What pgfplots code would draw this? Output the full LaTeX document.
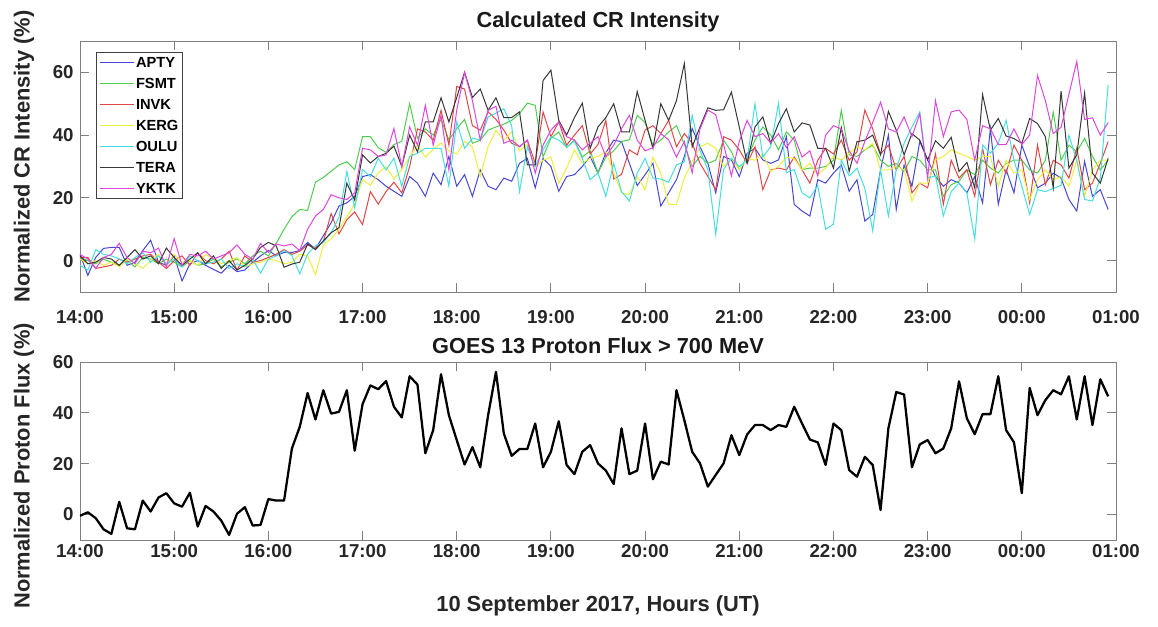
\documentclass[border=0pt]{standalone}
\usepackage{fontspec}
\setmainfont{Liberation Sans}
\usepackage{pgfplots}
\usepackage{pgfplotstable}
\pgfplotsset{compat=1.18}

\definecolor{capty}{RGB}{70,70,215}
\definecolor{cfsmt}{RGB}{80,205,80}
\definecolor{cinvk}{RGB}{225,70,70}
\definecolor{ckerg}{RGB}{238,238,60}
\definecolor{coulu}{RGB}{70,222,222}
\definecolor{ctera}{RGB}{55,55,55}
\definecolor{cyktk}{RGB}{222,70,222}

% 5-minute samples, index 0 = 14:00
\pgfplotstableread[header=false,row sep=\\]{
2.0\\-4.7\\1.0\\3.9\\4.2\\4.2\\-1.5\\-0.5\\3.2\\6.5\\-0.5\\-1.5\\
1.5\\-6.5\\-1.0\\0.0\\-1.5\\-2.8\\-4.0\\-1.5\\-3.5\\-3.0\\-0.5\\1.5\\
3.2\\1.6\\2.6\\2.6\\3.2\\5.8\\3.7\\7.9\\12.1\\17.4\\18.4\\20.5\\
26.8\\27.4\\25.8\\23.7\\22.1\\20.5\\26.8\\24.7\\20.5\\27.9\\24.2\\33.2\\
23.7\\27.4\\20.5\\28.9\\23.7\\22.6\\26.3\\25.3\\31.0\\32.6\\23.2\\32.6\\
30.0\\22.1\\26.8\\27.4\\30.0\\33.2\\27.9\\34.4\\38.4\\37.9\\31.0\\23.9\\
27.4\\31.0\\17.4\\21.6\\25.8\\33.2\\42.1\\36.3\\31.0\\21.6\\33.2\\32.1\\
26.8\\34.2\\35.8\\32.1\\31.0\\32.1\\39.5\\17.9\\15.8\\14.2\\25.8\\24.7\\
27.9\\30.5\\22.1\\25.8\\12.6\\14.7\\29.0\\40.0\\16.3\\30.5\\23.7\\38.0\\
32.1\\26.8\\23.7\\25.8\\24.7\\21.6\\26.8\\18.4\\42.1\\17.9\\29.0\\21.6\\
36.8\\30.0\\23.2\\24.7\\27.9\\26.3\\19.5\\15.8\\31.6\\20.5\\22.6\\16.3\\
}\apty
\pgfplotstableread[header=false,row sep=\\]{
1.0\\0.0\\-1.0\\0.5\\-0.5\\-1.5\\0.0\\-2.0\\1.0\\0.5\\-1.0\\0.5\\
-0.5\\-2.0\\0.0\\-1.5\\-1.0\\0.5\\-2.0\\-0.5\\0.5\\-1.0\\1.5\\3.0\\
1.5\\5.5\\10.0\\14.0\\16.3\\16.0\\25.0\\26.5\\28.5\\30.5\\31.5\\29.0\\
39.5\\39.5\\36.0\\34.5\\37.0\\38.0\\50.0\\39.0\\42.0\\40.0\\45.0\\38.5\\
42.0\\45.0\\37.4\\38.4\\41.6\\42.6\\43.5\\44.7\\46.8\\50.2\\49.5\\33.0\\
39.0\\41.0\\36.0\\38.5\\33.0\\35.0\\28.0\\33.0\\35.0\\38.0\\38.5\\46.3\\
44.0\\36.8\\38.4\\41.0\\43.0\\37.0\\30.0\\33.2\\31.0\\32.0\\38.4\\34.7\\
29.0\\32.6\\38.4\\42.6\\40.0\\35.3\\41.0\\38.4\\29.0\\29.5\\29.5\\30.0\\
32.0\\47.9\\33.7\\33.2\\35.3\\36.8\\32.0\\30.0\\31.0\\28.4\\33.2\\32.0\\
28.9\\28.9\\20.5\\24.2\\25.3\\28.9\\27.4\\32.0\\29.5\\27.9\\31.0\\32.0\\
32.0\\28.9\\27.9\\32.0\\47.4\\32.0\\36.8\\34.7\\39.0\\33.2\\28.9\\32.0\\
}\fsmt
\pgfplotstableread[header=false,row sep=\\]{
1.0\\1.0\\-2.5\\-2.0\\-1.5\\0.5\\-0.5\\0.5\\1.5\\2.0\\-0.5\\-2.5\\
0.0\\1.5\\-1.5\\2.5\\0.0\\-1.0\\0.5\\3.0\\-3.0\\1.5\\-0.5\\0.0\\
1.0\\2.0\\3.5\\2.0\\3.0\\5.0\\4.0\\6.0\\15.0\\8.5\\13.0\\15.5\\
11.5\\22.0\\18.0\\22.0\\25.0\\21.6\\30.0\\42.0\\41.0\\38.4\\47.9\\36.8\\
55.5\\54.7\\43.0\\41.6\\47.4\\45.0\\41.6\\37.4\\36.3\\38.4\\31.0\\47.4\\
39.5\\44.2\\36.8\\40.0\\43.0\\34.0\\37.0\\44.7\\26.0\\27.5\\35.3\\33.7\\
41.6\\43.0\\40.5\\44.7\\36.3\\40.5\\37.4\\31.0\\26.8\\22.6\\39.5\\38.4\\
35.3\\31.0\\36.3\\22.6\\28.9\\29.5\\28.9\\33.0\\28.9\\24.7\\32.0\\35.8\\
34.0\\38.4\\32.0\\34.7\\48.0\\42.0\\34.0\\36.8\\28.9\\33.2\\21.6\\24.7\\
23.2\\34.0\\17.9\\32.0\\26.3\\29.0\\20.5\\35.8\\24.2\\32.0\\27.9\\36.8\\
32.0\\18.4\\36.8\\24.2\\32.0\\30.5\\26.3\\35.8\\22.6\\24.7\\31.0\\37.9\\
}\invk
\pgfplotstableread[header=false,row sep=\\]{
0.5\\-1.0\\0.0\\-1.5\\-0.5\\-2.0\\0.5\\-1.0\\-2.5\\0.0\\2.0\\-1.5\\
2.0\\-0.5\\0.0\\-1.5\\2.0\\0.5\\-1.0\\0.0\\1.0\\-2.0\\-1.0\\-0.5\\
0.5\\0.0\\-1.0\\-0.5\\2.0\\1.5\\-4.5\\5.0\\7.0\\10.0\\14.0\\18.0\\
25.8\\24.0\\28.0\\30.0\\26.0\\29.0\\33.0\\36.8\\33.0\\35.5\\37.5\\35.0\\
34.0\\38.0\\36.3\\26.8\\36.3\\41.6\\38.4\\41.0\\35.0\\37.0\\30.0\\32.0\\
33.0\\24.7\\29.5\\35.3\\31.0\\32.6\\33.2\\34.7\\28.0\\21.6\\21.0\\26.8\\
22.6\\33.0\\28.0\\17.9\\17.9\\26.3\\31.5\\36.3\\37.4\\35.8\\30.0\\32.6\\
29.0\\32.6\\32.0\\34.0\\28.5\\30.0\\33.0\\32.5\\28.9\\31.0\\27.5\\29.5\\
33.2\\32.0\\34.2\\36.3\\35.3\\37.4\\28.9\\28.9\\30.0\\29.0\\19.0\\24.7\\
24.7\\32.0\\33.2\\35.3\\34.2\\33.2\\32.0\\33.2\\33.2\\23.7\\32.0\\27.9\\
28.9\\19.5\\25.8\\28.9\\25.8\\26.8\\23.7\\32.0\\20.5\\28.9\\32.0\\32.0\\
}\kerg
\pgfplotstableread[header=false,row sep=\\]{
-1.5\\-3.0\\3.5\\2.0\\1.5\\0.5\\-1.0\\1.0\\2.5\\-0.5\\1.5\\-1.0\\
0.5\\-2.0\\1.5\\0.0\\-1.0\\-0.5\\0.5\\-2.5\\-1.0\\-2.0\\0.5\\-4.0\\
0.5\\1.5\\3.2\\1.6\\-4.2\\2.1\\4.7\\5.8\\8.9\\13.7\\28.4\\16.8\\
29.0\\26.8\\32.6\\28.9\\32.6\\23.7\\33.2\\34.2\\35.8\\35.8\\35.8\\23.7\\
44.2\\35.8\\39.0\\38.4\\45.8\\47.0\\48.4\\43.0\\22.0\\36.3\\30.0\\35.3\\
39.5\\38.4\\36.3\\38.0\\32.5\\25.8\\28.0\\20.5\\31.0\\22.0\\19.0\\27.9\\
32.6\\26.3\\26.0\\25.0\\30.5\\31.5\\46.3\\35.0\\29.0\\8.4\\29.0\\32.6\\
30.0\\32.0\\50.0\\33.0\\36.3\\50.2\\28.0\\29.0\\21.6\\20.0\\24.0\\10.0\\
11.6\\32.0\\27.0\\29.5\\23.0\\9.5\\29.0\\14.2\\29.0\\37.4\\42.6\\47.4\\
26.3\\27.0\\14.2\\22.0\\24.7\\21.6\\6.8\\36.8\\34.2\\37.4\\44.7\\32.0\\
23.7\\14.7\\22.6\\22.0\\23.0\\24.0\\40.0\\32.0\\19.5\\19.0\\26.3\\56.0\\
}\oulu
\pgfplotstableread[header=false,row sep=\\]{
1.5\\-1.0\\-0.5\\1.0\\0.5\\-1.5\\1.0\\3.5\\0.5\\1.5\\-1.0\\4.0\\
1.0\\-1.5\\0.5\\2.5\\-1.0\\1.5\\-2.5\\0.0\\-3.0\\-1.5\\0.5\\4.2\\
5.8\\4.7\\-2.1\\-1.1\\-0.5\\5.3\\3.5\\6.3\\8.9\\10.5\\24.7\\19.3\\
33.7\\31.1\\33.2\\34.2\\36.5\\30.0\\40.0\\34.7\\44.2\\44.2\\51.9\\44.2\\
52.0\\60.0\\52.0\\54.7\\47.9\\51.9\\45.6\\45.6\\47.4\\30.5\\30.5\\57.4\\
60.7\\44.7\\40.0\\45.6\\50.2\\35.8\\42.6\\45.6\\50.0\\41.0\\41.0\\53.9\\
44.7\\35.8\\50.0\\44.7\\51.0\\62.8\\36.3\\42.6\\48.7\\47.9\\48.1\\53.7\\
42.6\\31.0\\42.6\\45.8\\37.4\\43.7\\48.4\\41.0\\43.9\\43.2\\35.8\\35.8\\
29.5\\42.4\\28.4\\37.9\\38.4\\40.0\\33.7\\47.6\\41.6\\33.7\\40.5\\38.4\\
32.1\\38.2\\35.8\\39.3\\28.4\\31.3\\23.2\\52.9\\41.6\\45.3\\39.7\\38.9\\
37.4\\45.3\\43.7\\39.5\\23.2\\54.0\\29.5\\33.7\\53.4\\27.9\\24.7\\32.6\\
}\tera
\pgfplotstableread[header=false,row sep=\\]{
2.0\\0.5\\-2.5\\1.0\\2.0\\5.5\\1.0\\-1.0\\3.0\\2.5\\4.0\\-2.0\\
7.0\\-1.5\\2.0\\1.5\\3.0\\0.5\\1.5\\2.5\\5.0\\2.0\\0.5\\5.5\\
2.6\\5.3\\4.7\\5.3\\3.2\\10.0\\14.2\\16.3\\21.0\\20.0\\19.5\\21.6\\
35.8\\35.3\\33.2\\33.7\\42.1\\30.0\\42.6\\36.8\\49.5\\36.8\\46.3\\28.9\\
48.0\\60.0\\51.0\\38.4\\47.9\\49.2\\37.4\\38.4\\36.3\\38.4\\27.9\\36.8\\
41.6\\44.2\\39.5\\38.4\\35.3\\37.4\\39.5\\33.2\\36.8\\42.1\\46.3\\38.4\\
35.0\\36.0\\40.5\\38.5\\33.0\\38.0\\28.0\\42.0\\48.0\\46.5\\37.0\\27.0\\
38.0\\44.7\\39.5\\40.5\\37.5\\40.5\\36.0\\39.5\\33.0\\35.0\\27.0\\40.0\\
43.0\\42.0\\35.0\\31.0\\38.0\\44.0\\50.5\\42.0\\41.0\\45.8\\39.5\\46.8\\
26.3\\51.0\\39.5\\47.4\\48.0\\45.0\\32.0\\43.0\\42.0\\37.0\\37.0\\42.0\\
37.0\\40.0\\59.0\\51.0\\40.5\\42.5\\53.0\\63.5\\45.0\\45.5\\40.0\\44.0\\
}\yktk
\pgfplotstableread[header=false,row sep=\\]{
-0.5\\0.9\\-1.4\\-5.8\\-7.6\\5.0\\-5.4\\-5.8\\5.5\\1.2\\6.7\\8.4\\
4.4\\3.1\\8.6\\-4.7\\3.4\\1.2\\-2.4\\-8.0\\0.3\\2.9\\-4.3\\-4.1\\
6.1\\5.5\\5.5\\26.0\\34.5\\47.8\\37.4\\48.9\\39.7\\40.4\\48.9\\25.1\\
43.4\\50.8\\49.3\\52.5\\42.4\\38.2\\54.4\\51.1\\24.1\\33.2\\55.2\\39.1\\
29.3\\19.7\\26.5\\18.6\\39.1\\56.1\\31.9\\23.1\\25.8\\25.8\\35.8\\18.6\\
24.7\\36.7\\19.5\\15.9\\24.7\\27.3\\20.1\\17.3\\12.0\\33.9\\15.9\\17.3\\
35.8\\13.9\\20.8\\19.7\\48.9\\37.1\\24.7\\20.1\\11.0\\15.6\\20.1\\31.2\\
23.4\\31.5\\35.2\\35.2\\33.2\\35.2\\34.5\\42.4\\35.8\\29.5\\28.4\\19.5\\
35.8\\33.2\\17.5\\14.9\\22.7\\19.5\\1.8\\33.9\\48.2\\47.2\\18.6\\27.6\\
29.3\\24.1\\26.0\\33.9\\52.4\\37.8\\31.6\\39.5\\39.5\\54.4\\33.2\\28.4\\
8.4\\49.8\\39.1\\45.0\\48.9\\47.3\\54.4\\37.4\\54.4\\35.2\\53.2\\46.5\\
}\goes

\tikzset{paneltitle/.style={font=\fontsize{16.3}{18}\selectfont\bfseries, text=black!90, anchor=center, inner sep=0pt}}

\pgfplotsset{
  panel/.style={
    scale only axis, width=777pt,
    xmin=0, xmax=132, xtick={0,12,...,132},
    xticklabels={14:00,15:00,16:00,17:00,18:00,19:00,20:00,21:00,22:00,23:00,00:00,01:00},
    ytick={0,20,40,60},
    tick align=inside, major tick length=6.5pt,
    axis line style={black!50, line width=0.7pt},
    tick style={black!50, line width=0.7pt},
    /pgf/number format/assume math mode=true,
    tick label style={font=\fontsize{14}{16}\selectfont\bfseries, text=black!85},
    yticklabel style={xshift=-1.3pt},
    label style={font=\fontsize{16.4}{18}\selectfont\bfseries, text=black!85},
    clip=true,
  },
}

\begin{document}
\begin{tikzpicture}
\path[use as bounding box] (0pt,0pt) rectangle (868.5pt,470.25pt);

\begin{axis}[panel,
  at={(60pt,251.25pt)}, anchor=south west, height=188.25pt,
  ymin=-10, ymax=70,
  xticklabel style={yshift=-10.5pt},
  extra description/.code={\node[paneltitle] at (0.5,1.0757) {Calculated CR Intensity};},
  ylabel={Normalized CR Intensity (\%)},
  ylabel style={at={(axis description cs:-0.054,0.54)}, anchor=center},
  legend style={at={(axis description cs:0.0154,0.956)}, anchor=north west,
    draw=black!75, fill=white, line width=0.6pt,
    font=\fontsize{11}{12}\selectfont\bfseries,
    inner xsep=2pt, inner ysep=2.8pt, row sep=6.8pt,
    nodes={inner xsep=1pt, inner ysep=0.5pt, text height=8pt, text depth=0pt}},
  legend cell align=left,
  legend image code/.code={\draw[#1] (0pt,0pt) -- (26pt,0pt);},
  every axis plot/.append style={line width=0.75pt},
]
\addplot[draw=capty] table[x expr=\coordindex, y index=0]{\apty};
\addlegendentry{APTY}
\addplot[draw=cfsmt] table[x expr=\coordindex, y index=0]{\fsmt};
\addlegendentry{FSMT}
\addplot[draw=cinvk] table[x expr=\coordindex, y index=0]{\invk};
\addlegendentry{INVK}
\addplot[draw=ckerg] table[x expr=\coordindex, y index=0]{\kerg};
\addlegendentry{KERG}
\addplot[draw=coulu] table[x expr=\coordindex, y index=0]{\oulu};
\addlegendentry{OULU}
\addplot[draw=ctera] table[x expr=\coordindex, y index=0]{\tera};
\addlegendentry{TERA}
\addplot[draw=cyktk] table[x expr=\coordindex, y index=0]{\yktk};
\addlegendentry{YKTK}
\end{axis}

\begin{axis}[panel,
  at={(60pt,65.25pt)}, anchor=south west, height=133.5pt,
  ymin=-10, ymax=60,
  xticklabel style={yshift=0pt},
  extra description/.code={\node[paneltitle] at (0.5,1.09) {GOES 13 Proton Flux > 700 MeV};},
  ylabel={Normalized Proton Flux (\%)},
  ylabel style={at={(axis description cs:-0.054,0.416)}, anchor=center},
  xlabel={10 September 2017, Hours (UT)},
  xlabel style={at={(axis description cs:0.5,-0.371)}, anchor=center},
]
\addplot[draw=black, line width=1.7pt, line join=round] table[x expr=\coordindex, y index=0]{\goes};
\end{axis}
\end{tikzpicture}
\end{document}
